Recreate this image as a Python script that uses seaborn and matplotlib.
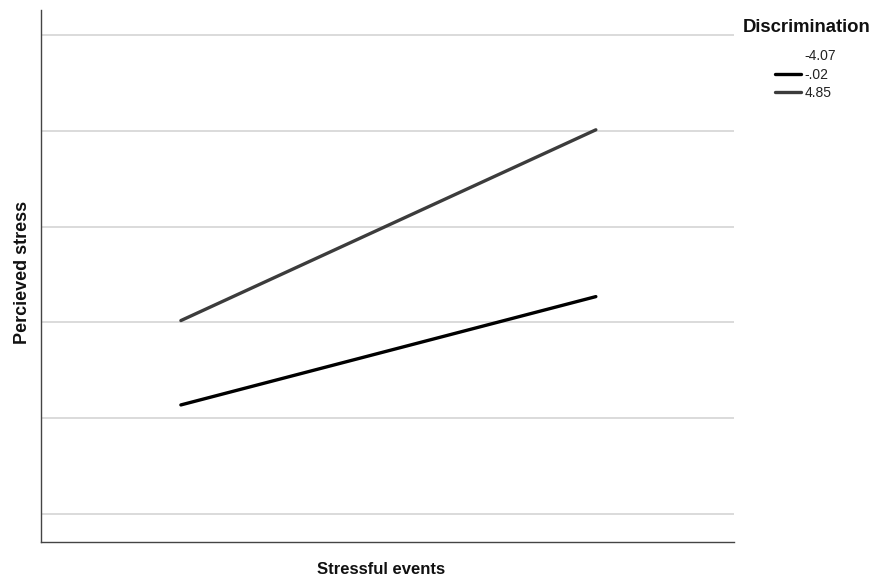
import matplotlib
matplotlib.use("Agg")
import matplotlib.pyplot as plt
import seaborn as sns
import pandas as pd
from matplotlib.lines import Line2D

# Data (arbitrary units: gridline spacing = 1)
stress_levels = [0, 1]                     # low / high stressful events
disc_labels = ["-4.07", "-.02", "4.85"]
series_m002 = [1.14, 2.27]
series_485 = [2.02, 4.01]
# the "-4.07" series has no visible line in the reference

rows = []
for lab, vals in [("-.02", series_m002), ("4.85", series_485)]:
    for x, y in zip(stress_levels, vals):
        rows.append({"Stressful events": x, "Percieved stress": y, "Discrimination": lab})
df = pd.DataFrame(rows)

sns.set_theme(style="white")
plt.rcParams["font.family"] = ["Liberation Sans", "DejaVu Sans"]

fig = plt.figure(figsize=(8.75, 5.84), dpi=100)
ax = fig.add_axes([0.0469, 0.0719, 0.792, 0.911])

palette = {"-.02": "#000000", "4.85": "#3c3c3c"}
sns.lineplot(data=df, x="Stressful events", y="Percieved stress", hue="Discrimination",
             palette=palette, linewidth=2.4, ax=ax, legend=False)

ax.set_xlim(-0.337, 1.333)
ax.set_ylim(-0.29, 5.26)
ax.set_yticks([0, 1, 2, 3, 4, 5])
ax.set_xticks([])
ax.set_yticklabels([])
ax.tick_params(left=False, bottom=False)
ax.grid(axis="y", color="#d4d4d4", linewidth=1.2)
ax.set_axisbelow(True)
for s in ["top", "right"]:
    ax.spines[s].set_visible(False)
for s in ["left", "bottom"]:
    ax.spines[s].set_color("#444444")
    ax.spines[s].set_linewidth(1.0)

ax.set_xlabel("Stressful events", fontsize=12, fontweight="bold", color="#111111")
ax.xaxis.set_label_coords(0.49, -0.038)
ax.set_ylabel("Percieved stress", fontsize=13, fontweight="bold", color="#111111")
ax.yaxis.set_label_coords(-0.0145, 0.506)

fig.text(743 / 875, 1 - 27 / 584, "Discrimination", fontsize=13.3, fontweight="bold",
         color="#111111", ha="left", va="center")

handles = [
    Line2D([], [], color="none", linewidth=2.4),
    Line2D([], [], color="#000000", linewidth=2.4),
    Line2D([], [], color="#3c3c3c", linewidth=2.4),
]
leg = fig.legend(handles, disc_labels, loc="upper left",
                 bbox_to_anchor=(775 / 875, 1 - 49 / 584), frameon=False, fontsize=10,
                 handlelength=1.9, handletextpad=0.2, labelspacing=0.33,
                 borderaxespad=0, borderpad=0)
for t in leg.get_texts():
    t.set_color("#222222")

fig.savefig("out.png", dpi=100)
